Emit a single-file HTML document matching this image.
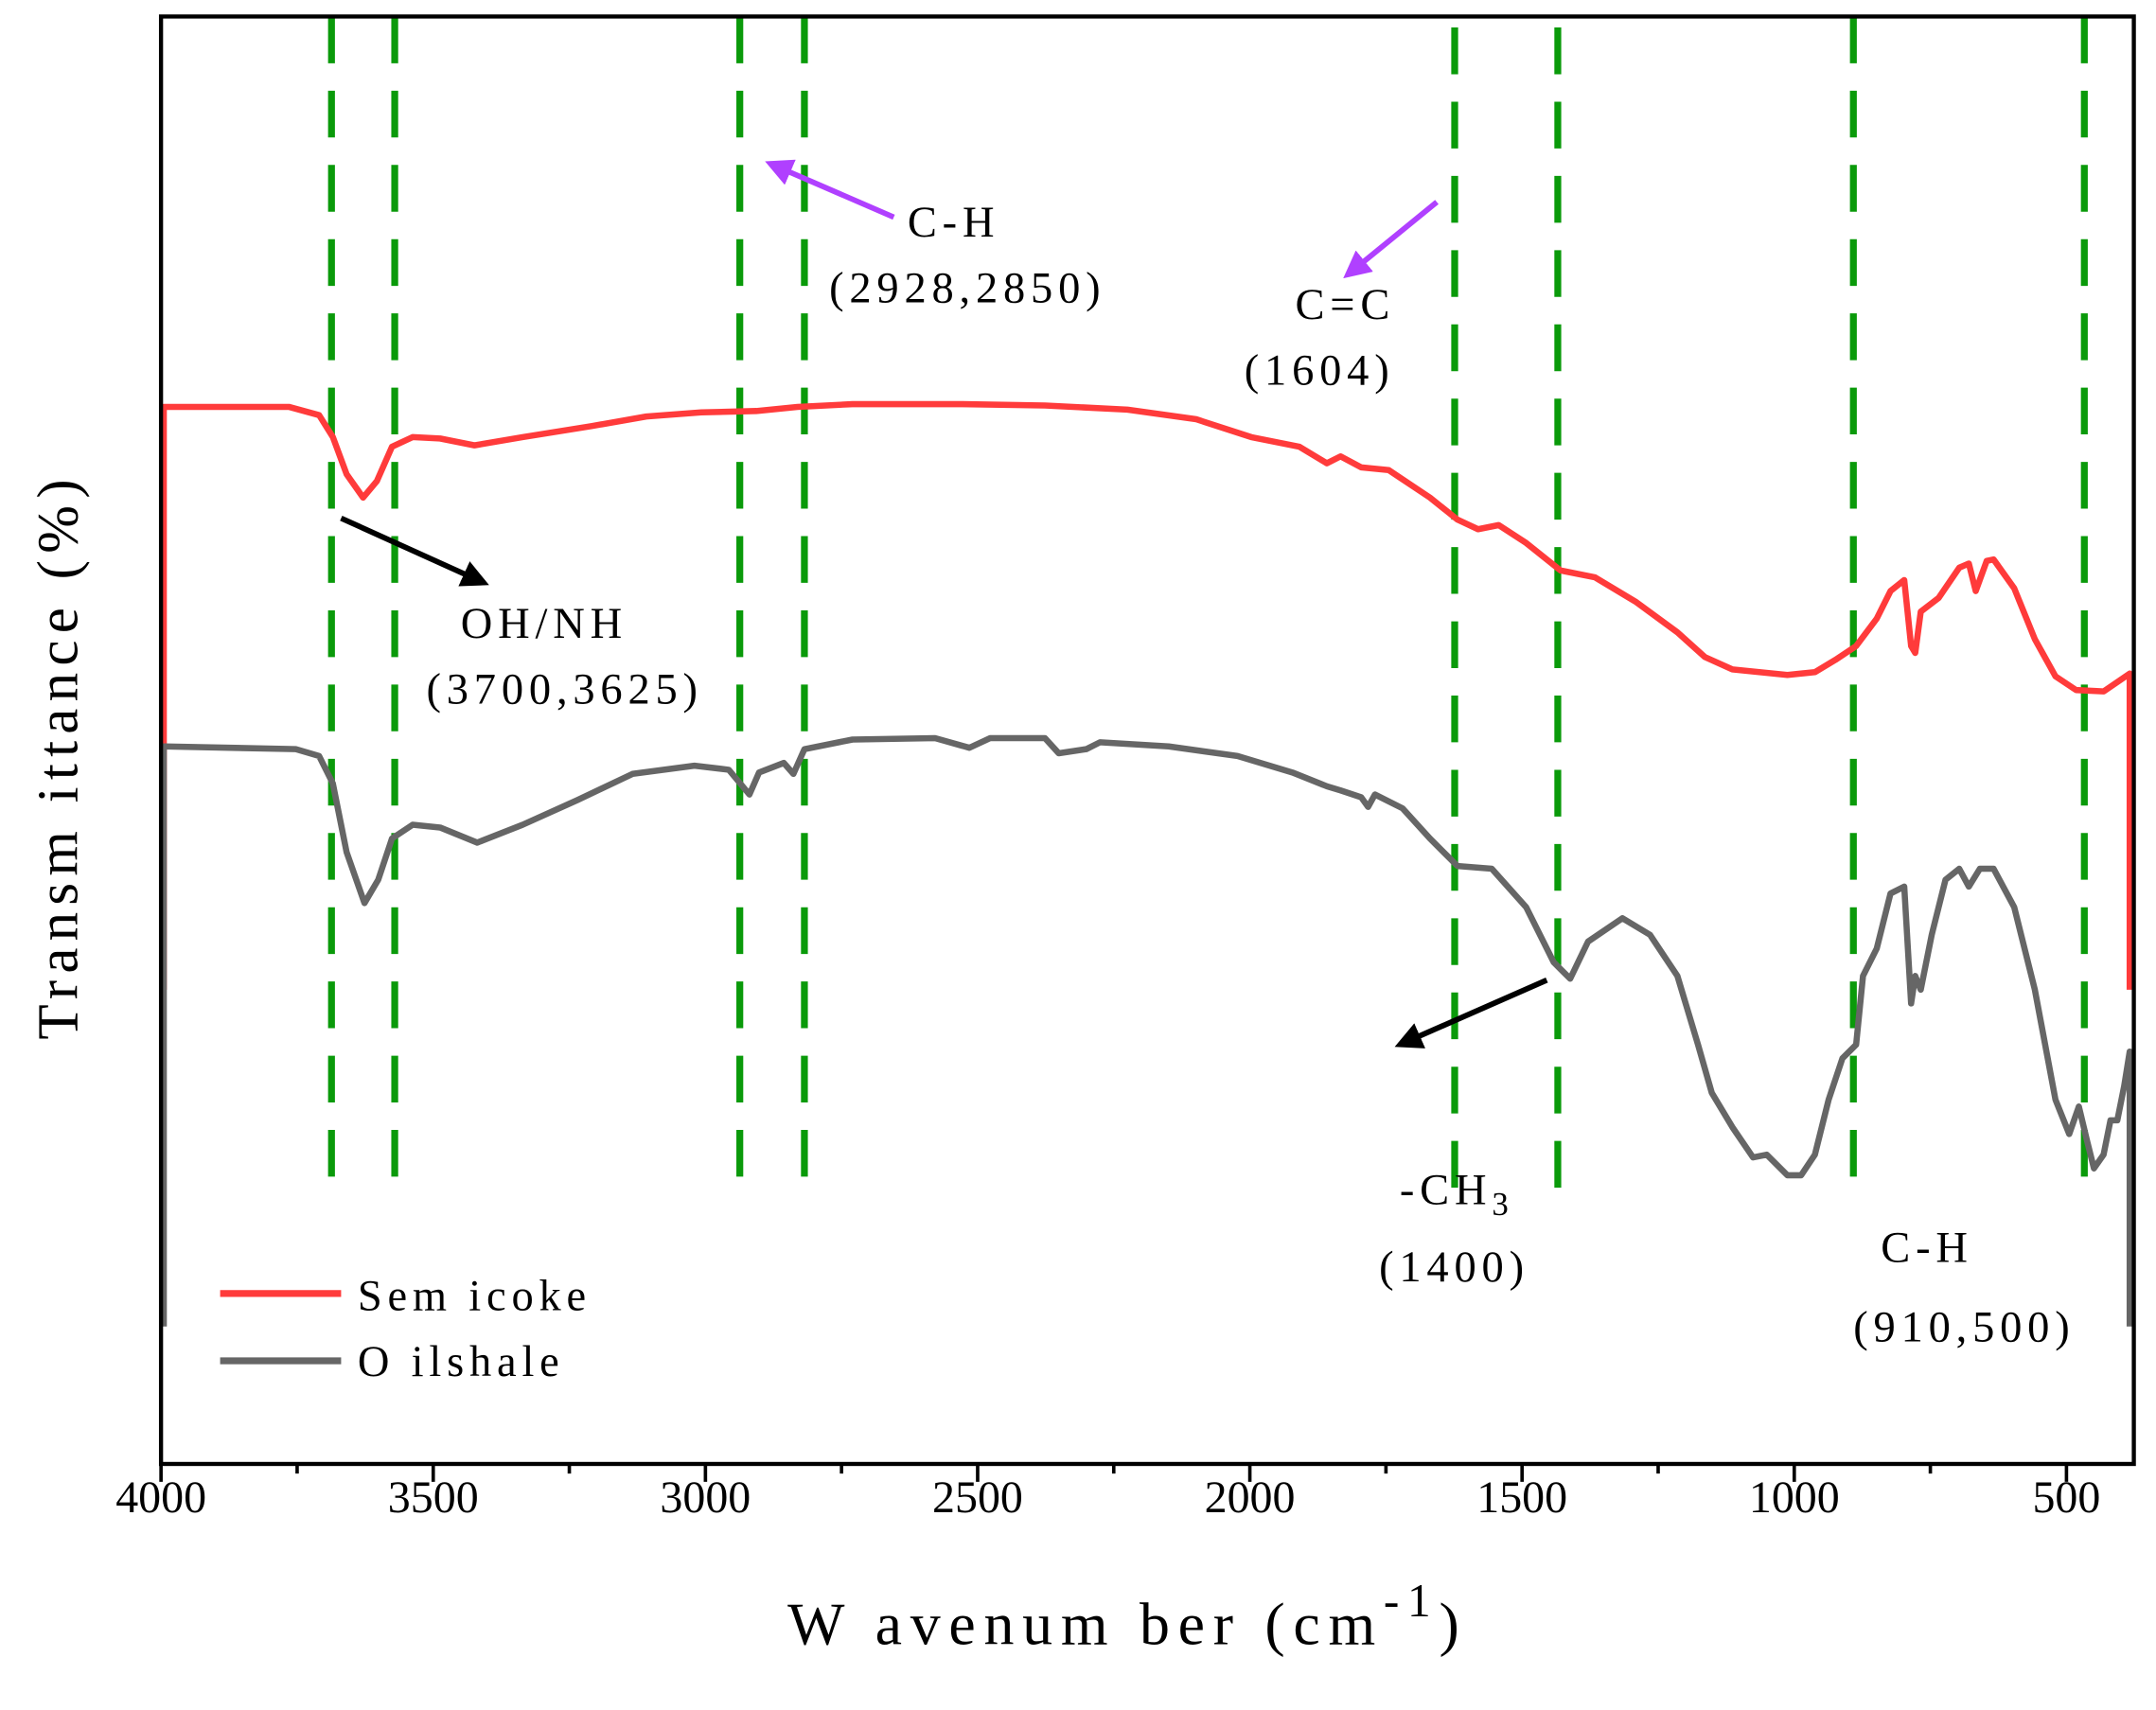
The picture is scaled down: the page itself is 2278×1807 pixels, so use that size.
<!DOCTYPE html>
<html><head><meta charset="utf-8"><style>html,body{margin:0;padding:0;background:#fff}svg{display:block}</style></head>
<body>
<svg width="2278" height="1807" viewBox="0 0 1568 1244" xmlns="http://www.w3.org/2000/svg" font-family="Liberation Serif, serif">
<defs>
<marker id="ab" markerWidth="5" markerHeight="5" refX="4" refY="2.5" orient="auto" markerUnits="strokeWidth"><path d="M0,0 L5,2.5 L0,5 z" fill="#000"/></marker>
<marker id="ap" markerWidth="5" markerHeight="5" refX="4" refY="2.5" orient="auto" markerUnits="strokeWidth"><path d="M0,0 L5,2.5 L0,5 z" fill="#b040ff"/></marker>
</defs>
<rect width="1568" height="1244" fill="#fff"/>
<g stroke="#0a9a0a" stroke-width="5" stroke-dasharray="34,20">
<line x1="241" y1="12" x2="241" y2="866"/><line x1="287" y1="12" x2="287" y2="866"/>
<line x1="538" y1="12" x2="538" y2="866"/><line x1="585" y1="12" x2="585" y2="866"/>
<line x1="1058" y1="20" x2="1058" y2="870"/><line x1="1133" y1="20" x2="1133" y2="875"/>
<line x1="1348" y1="12" x2="1348" y2="866"/><line x1="1516" y1="12" x2="1516" y2="866"/>
</g>
<polyline fill="none" stroke="#ff3b3b" stroke-width="4.5" stroke-linejoin="round" points="119,720 119,296 210,296 232,302 242,318 252,345 264,362 274,350 285,325 300,318 320,319 345,324 380,318 430,310 470,303 510,300 550,299 580,296 620,294 700,294 760,295 820,298 870,305 910,318 945,325 965,337 975,332 990,340 1010,342 1040,362 1060,378 1075,385 1090,382 1110,395 1135,415 1160,420 1190,438 1220,460 1240,478 1260,487 1300,491 1320,489 1335,480 1350,470 1365,450 1375,430 1385,422 1390,470 1393,475 1397,445 1410,435 1425,413 1432,410 1437,430 1445,408 1450,407 1465,428 1480,465 1495,492 1510,502 1530,503 1549,490 1549,720"/>
<polyline fill="none" stroke="#666" stroke-width="4.5" stroke-linejoin="round" points="119,965 119,543 215,545 232,550 242,570 252,620 265,657 275,640 285,610 300,600 320,602 347,613 380,600 420,582 460,563 505,557 530,560 545,578 552,562 570,555 577,563 585,545 620,538 680,537 705,544 720,537 760,537 770,548 790,545 800,540 850,543 900,550 940,562 965,572 975,575 990,580 995,587 1000,578 1020,588 1040,610 1060,630 1085,632 1110,660 1130,700 1142,712 1155,685 1180,668 1200,680 1220,710 1235,760 1245,795 1260,820 1275,842 1285,840 1300,855 1310,855 1320,840 1330,800 1340,770 1350,760 1355,710 1365,690 1375,650 1385,645 1390,730 1393,710 1397,720 1405,680 1415,640 1425,632 1432,645 1440,632 1450,632 1465,660 1480,720 1495,800 1505,825 1512,805 1518,830 1523,850 1530,840 1535,815 1540,815 1545,790 1549,765 1549,965"/>
<rect x="117" y="12" width="1435" height="1053" fill="none" stroke="#000" stroke-width="3"/>
<g stroke="#000" stroke-width="2.5">
<line x1="117" y1="1065" x2="117" y2="1078"/><line x1="315" y1="1065" x2="315" y2="1078"/><line x1="513" y1="1065" x2="513" y2="1078"/><line x1="711" y1="1065" x2="711" y2="1078"/><line x1="909" y1="1065" x2="909" y2="1078"/><line x1="1107" y1="1065" x2="1107" y2="1078"/><line x1="1305" y1="1065" x2="1305" y2="1078"/><line x1="1503" y1="1065" x2="1503" y2="1078"/>
<line x1="216" y1="1065" x2="216" y2="1072"/><line x1="414" y1="1065" x2="414" y2="1072"/><line x1="612" y1="1065" x2="612" y2="1072"/><line x1="810" y1="1065" x2="810" y2="1072"/><line x1="1008" y1="1065" x2="1008" y2="1072"/><line x1="1206" y1="1065" x2="1206" y2="1072"/><line x1="1404" y1="1065" x2="1404" y2="1072"/>
</g>
<g font-size="33" text-anchor="middle" fill="#000">
<text x="117" y="1100">4000</text><text x="315" y="1100">3500</text><text x="513" y="1100">3000</text><text x="711" y="1100">2500</text><text x="909" y="1100">2000</text><text x="1107" y="1100">1500</text><text x="1305" y="1100">1000</text><text x="1503" y="1100">500</text>
</g>
<text x="820" y="1196" font-size="44" text-anchor="middle" letter-spacing="6">W avenum ber (cm<tspan dy="-20" font-size="34">-1</tspan><tspan dy="20">)</tspan></text>
<text transform="translate(56,550) rotate(-90)" font-size="42" text-anchor="middle" letter-spacing="5">Transm ittance (%)</text>
<g font-size="32" fill="#000" letter-spacing="4">
<text x="660" y="172">C-H</text><text x="603" y="220">(2928,2850)</text>
<text x="942" y="232">C=C</text><text x="905" y="280">(1604)</text>
<text x="335" y="464">OH/NH</text><text x="310" y="512">(3700,3625)</text>
<text x="1018" y="876">-CH<tspan font-size="24" dy="8">3</tspan></text><text x="1003" y="932">(1400)</text>
<text x="1368" y="918">C-H</text><text x="1348" y="976">(910,500)</text>
<text x="260" y="953">Sem icoke</text><text x="260" y="1001">O ilshale</text>
</g>
<line x1="160" y1="941" x2="248" y2="941" stroke="#ff3b3b" stroke-width="5"/>
<line x1="160" y1="990" x2="248" y2="990" stroke="#666" stroke-width="5"/>
<g stroke-width="4">
<line x1="248" y1="377" x2="352" y2="424" stroke="#000" marker-end="url(#ab)"/>
<line x1="1125" y1="713" x2="1018" y2="760" stroke="#000" marker-end="url(#ab)"/>
<line x1="650" y1="158" x2="560" y2="119" stroke="#b040ff" marker-end="url(#ap)"/>
<line x1="1045" y1="147" x2="980" y2="200" stroke="#b040ff" marker-end="url(#ap)"/>
</g>
</svg>
</body></html>
